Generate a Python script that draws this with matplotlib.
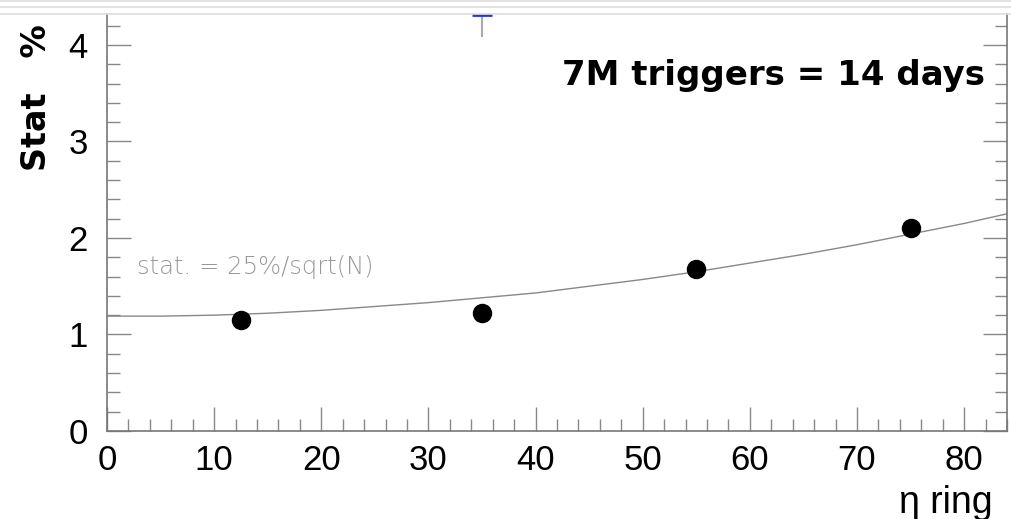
import matplotlib.pyplot as plt
from matplotlib.ticker import MultipleLocator
from matplotlib.lines import Line2D

# measured points
eta_ring = [12.5, 35, 55, 75]
stat_pct = [1.15, 1.22, 1.68, 2.10]

# fit curve
curve_x = [0, 5, 10, 15, 20, 25, 30, 35, 40, 45, 50, 55, 60, 65, 70, 75, 80, 84]
curve_y = [1.19, 1.19, 1.20, 1.22, 1.25, 1.29, 1.33, 1.38, 1.43, 1.50, 1.57, 1.65, 1.74, 1.83, 1.93, 2.04, 2.15, 2.25]

# stray error bar at the top edge
stray_x = 35
stray_lo = 4.08
stray_hi = 4.32

xticks = [0, 10, 20, 30, 40, 50, 60, 70, 80]
yticks = [0, 1, 2, 3, 4]

fig = plt.figure(figsize=(10.12, 5.19), dpi=100)
ax = fig.add_axes([107 / 1012, 88 / 519, 900 / 1012, 417 / 519])

ax.plot(curve_x, curve_y, color='#888888', lw=1.0, zorder=2)
ax.plot(eta_ring, stat_pct, 'o', color='black', ms=13, zorder=3)
ax.vlines(stray_x, stray_lo, stray_hi, color='#aaaaaa', lw=1.5, clip_on=False)
ax.hlines(4.305, stray_x - 0.9, stray_x + 0.9, color='#2233ee', lw=2, clip_on=False)

ax.set_xlim(0, 84)
ax.set_ylim(0, 4.32)
ax.set_xticks(xticks)
ax.set_yticks(yticks)
ax.xaxis.set_minor_locator(MultipleLocator(2))
ax.yaxis.set_minor_locator(MultipleLocator(0.2))

for s in ['left', 'bottom', 'right']:
    ax.spines[s].set_color('#777777')
    ax.spines[s].set_linewidth(1.2)
ax.spines['top'].set_visible(False)

ax.tick_params(which='both', direction='in', color='#888888', right=True, top=False)
ax.tick_params(which='major', length=17, width=1)
ax.tick_params(which='minor', length=9, width=1)
ax.tick_params(axis='x', which='major', pad=9)
ax.tick_params(axis='y', which='major', pad=14)
for lab in ax.get_xticklabels() + ax.get_yticklabels():
    lab.set_fontfamily(['Liberation Sans', 'DejaVu Sans'])
    lab.set_fontsize(25)

fig.text(137 / 1012, 1 - 267 / 519, 'stat. = 25%/sqrt(N)', color='#999999', fontsize=17.5,
         family=['DejaVu Sans'], fontweight='light', va='center', ha='left')
fig.text(985 / 1012, 1 - 76 / 519, '7M triggers = 14 days', fontsize=24.5, fontweight='bold',
         family=['DejaVu Sans'], va='center', ha='right')
fig.text(36 / 1012, 1 - 98 / 519, 'Stat   %', fontsize=24, fontweight='bold', rotation=90,
         family=['DejaVu Sans'], va='center', ha='center')
fig.text(899 / 1012, 1 - 503 / 519, 'η ring', fontsize=27,
         family=['Liberation Sans', 'DejaVu Sans'], va='center', ha='left')

# window frame lines at the top
for yy in [0.5, 7, 14]:
    fig.add_artist(Line2D([0, 1], [1 - yy / 519, 1 - yy / 519], color='#dddddd', lw=1.2))

fig.savefig('out.png', dpi=100)
